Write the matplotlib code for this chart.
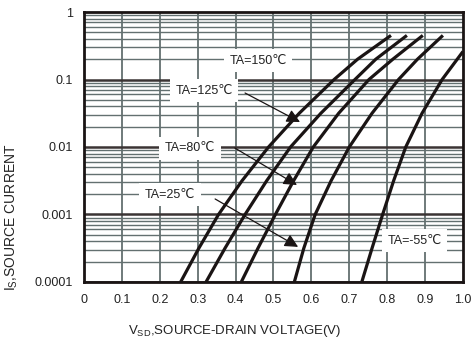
import numpy as np
import matplotlib
matplotlib.use('Agg')
import matplotlib.pyplot as plt

plt.rcParams['font.family'] = ['Liberation Sans', 'DejaVu Sans']

# Source current levels (A) and forward voltage read per curve (V)
current = [1e-4, 3.16e-4, 1e-3, 3.16e-3, 1e-2, 3.16e-2, 0.1, 0.2, 0.45]
v_150 = [0.255, 0.303, 0.355, 0.417, 0.487, 0.568, 0.660, 0.722, 0.810]
v_125 = [0.322, 0.372, 0.425, 0.482, 0.545, 0.625, 0.715, 0.770, 0.852]
v_80 = [0.415, 0.459, 0.505, 0.553, 0.605, 0.672, 0.752, 0.815, 0.894]
v_25 = [0.555, 0.580, 0.610, 0.652, 0.700, 0.760, 0.830, 0.880, 0.947]

current_m55 = [1e-4, 3.16e-4, 1e-3, 3.16e-3, 1e-2, 3.16e-2, 0.1, 0.26]
v_m55 = [0.733, 0.760, 0.788, 0.817, 0.849, 0.892, 0.945, 1.000]

x_ticks = [0, 0.1, 0.2, 0.3, 0.4, 0.5, 0.6, 0.7, 0.8, 0.9, 1.0]
x_labels = ['0', '0.1', '0.2', '0.3', '0.4', '0.5', '0.6', '0.7', '0.8', '0.9', '1.0']
y_ticks = [1e-4, 1e-3, 1e-2, 1e-1, 1]
y_labels = ['0.0001', '0.001', '0.01', '0.1', '1']

fig = plt.figure(figsize=(4.75, 3.51), dpi=100)
ax = fig.add_axes([0.1768, 0.1966, 0.7979, 0.7692])
ax.set_yscale('log')
ax.set_xlim(0, 1.0)
ax.set_ylim(1e-4, 1)

# grid
grid_col = '#637070'
for x in x_ticks[1:-1]:
    ax.axvline(x, color=grid_col, lw=1.3, zorder=1)
for dec in [1e-4, 1e-3, 1e-2, 1e-1]:
    for m in range(2, 10):
        ax.axhline(dec * m, color=grid_col, lw=1.0, zorder=1)
    ax.axhline(dec, color='#3b3434', lw=1.8, zorder=1)

for v, i in [(v_150, current), (v_125, current), (v_80, current),
             (v_25, current), (v_m55, current_m55)]:
    ax.plot(v, i, color='#1a1414', lw=2.3, solid_capstyle='butt',
            solid_joinstyle='round', zorder=3)

for s in ax.spines.values():
    s.set_linewidth(2)
    s.set_color('#1a1414')
    s.set_zorder(5)

ax.set_xticks(x_ticks)
ax.set_xticklabels(x_labels, fontsize=9, color='#222222')
ax.set_yticks(y_ticks)
ax.set_yticklabels(y_labels, fontsize=9, color='#222222')
ax.minorticks_off()
ax.tick_params(length=0, pad=8)
ax.tick_params(axis='x', pad=9)

box = dict(facecolor='white', edgecolor='none', pad=4)
arrow = dict(arrowstyle='-|>', color='#1a1414', lw=0.9, mutation_scale=20,
             shrinkA=0, shrinkB=0)
lbl = dict(fontsize=9, ha='center', va='center', bbox=box, zorder=4,
           color='#222222')
ax.text(0.459, 0.188, 'TA=150℃', **lbl)
ax.text(0.317, 0.0676, 'TA=125℃', **lbl)
ax.text(0.28, 0.00966, 'TA=80℃', **lbl)
ax.text(0.227, 0.00195, 'TA=25℃', **lbl)
ax.text(0.873, 0.000405, 'TA=-55℃', **lbl)

ax.annotate('', xy=(0.57, 10**-1.63), xytext=(0.425, 10**-1.2),
            arrowprops=arrow, zorder=4)
ax.annotate('', xy=(0.562, 10**-2.563), xytext=(0.398, 10**-2.015),
            arrowprops=arrow, zorder=4)
ax.annotate('', xy=(0.565, 10**-3.48), xytext=(0.346, 10**-2.77),
            arrowprops=arrow, zorder=4)

fig.text(0.495, 0.057, r'V$_{\mathregular{SD}}$,SOURCE-DRAIN VOLTAGE(V)',
         fontsize=9.5, ha='center', va='center', color='#222222')
fig.text(0.024, 0.382, r'I$_{\mathregular{S}}$,SOURCE CURRENT',
         fontsize=10, ha='center', va='center', rotation=90, color='#222222')

fig.savefig('out.png', dpi=100)
